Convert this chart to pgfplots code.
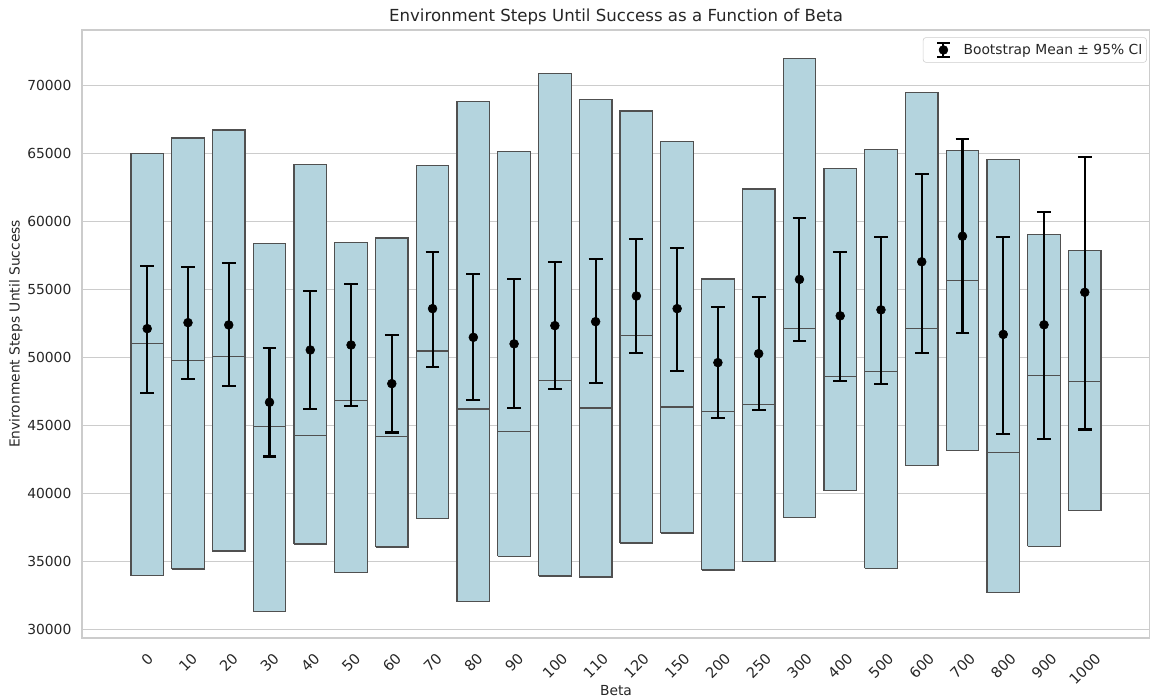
\documentclass[border=0pt]{standalone}
\usepackage{fontspec}
\setmainfont{DejaVu Sans}
\usepackage{graphicx}
\usepackage{pgfplots}
\usepackage{pgfplotstable}
\pgfplotsset{compat=1.18}
\definecolor{boxfill}{RGB}{180,212,222}
\definecolor{boxedge}{RGB}{80,80,80}
\definecolor{gridc}{RGB}{204,204,204}
\definecolor{txt}{RGB}{38,38,38}
\newcommand\rl[1]{\rotatebox{45}{#1}}
\pgfplotstableread{
i mean lo hi
0 52110 47380 56740
1 52550 48385 56670
2 52380 47870 56910
3 46695 42705 50710
4 50540 46205 54875
5 50905 46425 55365
6 48065 44470 51665
7 53580 49265 57770
8 51470 46840 56130
9 50990 46280 55760
10 52330 47650 57010
11 52620 48090 57205
12 54510 50295 58725
13 53580 49020 58065
14 49610 45545 53725
15 50270 46130 54435
16 55730 51170 60270
17 53050 48235 57755
18 53490 48015 58830
19 57025 50345 63510
20 58905 51755 66075
21 51685 44395 58830
22 52390 44025 60660
23 54780 44690 64705
}\stats
% left, right, Q1, median, Q3
\newcommand\bx[5]{%
  \addplot[forget plot, draw=boxedge, fill=boxfill, line width=0.9pt]
    coordinates {(#1,#3) (#2,#3) (#2,#5) (#1,#5) (#1,#3)};
  \addplot[forget plot, draw=boxedge, line width=0.9pt]
    coordinates {(#1,#4) (#2,#4)};}
\begin{document}
\begin{tikzpicture}
\path[use as bounding box] (0,0) rectangle (11.5in,7in);
\begin{axis}[
  at={(0.82in,0.62in)}, anchor=south west,
  scale only axis, width=10.68in, height=6.08in,
  xmin=-1.6, xmax=24.6, ymin=29360, ymax=74070,
  axis line style={draw=gridc, line width=0.8pt},
  major tick length=0pt,
  ymajorgrids, grid style={draw=gridc, line width=0.8pt},
  ytick={30000,35000,...,70000},
  scaled y ticks=false,
  /pgf/number format/assume math mode=true,
  yticklabel={\pgfmathprintnumber[1000 sep={}]{\tick}},
  yticklabel style={font=\fontsize{10}{12}\selectfont, text=txt, inner sep=0pt, xshift=-7.5pt},
  xtick={0,...,23},
  xticklabels={\rl{0},\rl{10},\rl{20},\rl{30},\rl{40},\rl{50},\rl{60},\rl{70},\rl{80},\rl{90},\rl{100},\rl{110},\rl{120},\rl{150},\rl{200},\rl{250},\rl{300},\rl{400},\rl{500},\rl{600},\rl{700},\rl{800},\rl{900},\rl{1000}},
  xticklabel style={font=\fontsize{10.5}{12}\selectfont, text=txt, anchor=north, inner sep=0pt, yshift=-10pt},
  xlabel={Beta},
  xlabel style={font=\fontsize{10}{12}\selectfont, text=txt, at={(axis description cs:0.5,0)}, anchor=base, yshift=-0.575in},
  ylabel={Environment Steps Until Success},
  ylabel style={font=\fontsize{10}{12}\selectfont, text=txt},
  title={Environment Steps Until Success as a Function of Beta},
  title style={font=\fontsize{12}{14}\selectfont, text=txt, at={(axis description cs:0.5,1)}, anchor=base, inner sep=0pt},
  legend style={at={(0.997,0.988)}, anchor=north east, draw=gridc, rounded corners=2pt,
    font=\fontsize{10}{12}\selectfont, text=txt, fill=white, inner ysep=2.5pt, inner xsep=1pt},
  legend cell align=left,
  legend image code/.code={
    \path[draw=none, fill=none] (0cm,0cm) rectangle (0.92cm,0.01cm);
    \draw[black, line width=1.4pt] (0.48cm,-0.17cm) -- (0.48cm,0.17cm);
    \draw[black, line width=1.4pt] (0.32cm,-0.17cm) -- (0.64cm,-0.17cm);
    \draw[black, line width=1.4pt] (0.32cm,0.17cm) -- (0.64cm,0.17cm);
    \fill[black] (0.48cm,0) circle (3.2pt);
  },
]
\bx{-0.4}{0.4}{33950}{51030}{64975}
\bx{0.6}{1.4}{34430}{49755}{66130}
\bx{1.6}{2.4}{35755}{50050}{66715}
\bx{2.6}{3.4}{31300}{44885}{58380}
\bx{3.6}{4.4}{36265}{44225}{64165}
\bx{4.6}{5.4}{34160}{46840}{58430}
\bx{5.6}{6.4}{36045}{44150}{58775}
\bx{6.6}{7.4}{38150}{50465}{64120}
\bx{7.6}{8.4}{32030}{46205}{68825}
\bx{8.6}{9.4}{35360}{44540}{65145}
\bx{9.6}{10.4}{33915}{48310}{70880}
\bx{10.6}{11.4}{33845}{46280}{68970}
\bx{11.6}{12.4}{36340}{51615}{68115}
\bx{12.6}{13.4}{37075}{46350}{65880}
\bx{13.6}{14.4}{34360}{46010}{55760}
\bx{14.6}{15.4}{34970}{46525}{62375}
\bx{15.6}{16.4}{38225}{52100}{72000}
\bx{16.6}{17.4}{40185}{48605}{63900}
\bx{17.6}{18.4}{34480}{48970}{65295}
\bx{18.6}{19.4}{42045}{52100}{69465}
\bx{19.6}{20.4}{43170}{55660}{65195}
\bx{20.6}{21.4}{32695}{43000}{64560}
\bx{21.6}{22.4}{36095}{48680}{59050}
\bx{22.6}{23.4}{38740}{48235}{57830}
\addplot[only marks, mark=*, mark size=3.2pt, black,
  error bars/.cd, y dir=both, y explicit,
  error bar style={line width=1.5pt, black},
  error mark options={black, line width=1.5pt, mark size=5pt, rotate=90}]
  table[x=i, y=mean, y error plus expr={\thisrow{hi}-\thisrow{mean}}, y error minus expr={\thisrow{mean}-\thisrow{lo}}] {\stats};
\addlegendentry{Bootstrap Mean ± 95\% CI}
\end{axis}
\end{tikzpicture}
\end{document}
